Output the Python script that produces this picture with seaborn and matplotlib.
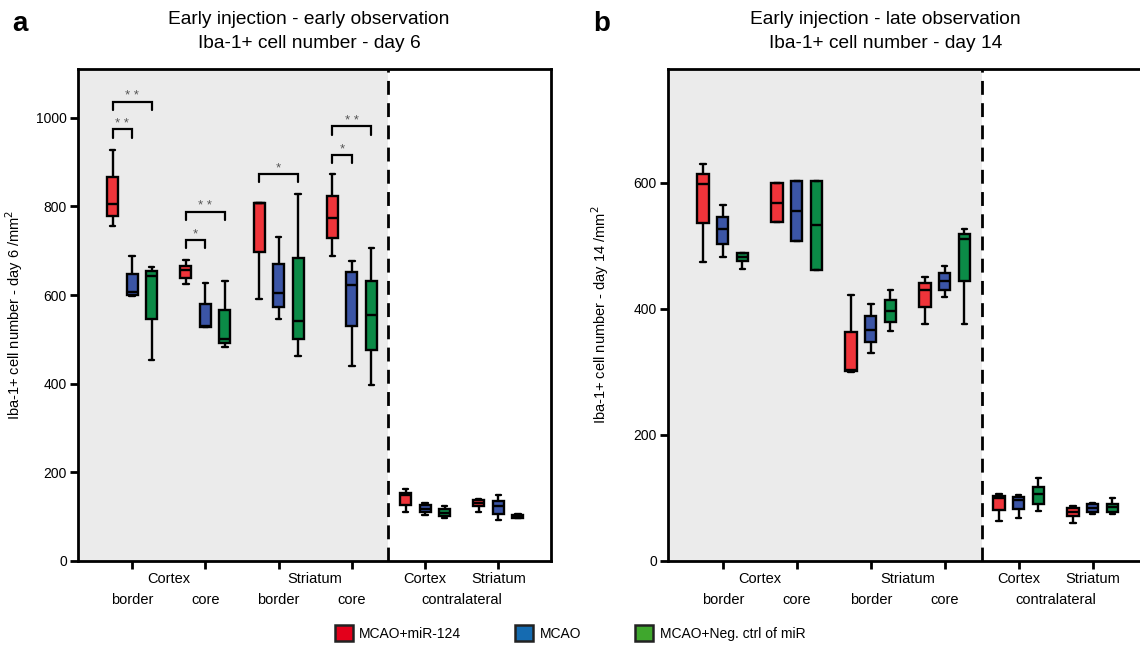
import numpy as np
import pandas as pd
import matplotlib
matplotlib.use("Agg")
import matplotlib.pyplot as plt
from matplotlib.patches import Patch
import seaborn as sns

# regions on the x axis (ipsilateral cortex/striatum border+core, contralateral cortex/striatum)
regions = ["ctx_border", "ctx_core", "str_border", "str_core", "ctx_contra", "str_contra"]
groups = ["MCAO+miR-124", "MCAO", "MCAO+Neg. ctrl of miR"]

# five-number summaries per box: [min, q1, median, q3, max]
# day 6 (panel a)
d6_mir124 = [[755, 779, 805, 867, 927], [624, 638, 657, 666, 678], [590, 698, 807, 808, 808],
             [687, 729, 773, 823, 872], [110, 126, 148, 154, 163], [110, 123, 130, 138, 141]]
d6_mcao = [[597, 600, 608, 648, 687], [527, 529, 531, 579, 627], [546, 574, 605, 669, 730],
           [440, 531, 623, 651, 677], [103, 111, 118, 126, 130], [93, 106, 123, 136, 148]]
d6_negctrl = [[453, 547, 644, 654, 663], [483, 491, 501, 567, 631], [463, 501, 541, 683, 827],
              [398, 476, 556, 632, 706], [96, 102, 109, 117, 123], [96, 97, 101, 104, 105]]

# day 14 (panel b)
d14_mir124 = [[474, 536, 598, 614, 630], [537, 537, 568, 599, 599], [299, 301, 303, 363, 422],
              [375, 402, 430, 441, 451], [64, 81, 100, 103, 106], [61, 72, 78, 84, 87]]
d14_mcao = [[482, 503, 526, 545, 565], [508, 508, 555, 603, 603], [330, 347, 367, 388, 407],
            [418, 430, 444, 456, 468], [68, 82, 97, 102, 104], [75, 78, 84, 90, 92]]
d14_negctrl = [[463, 475, 482, 488, 489], [461, 461, 532, 602, 602], [364, 379, 397, 413, 429],
               [376, 444, 510, 519, 527], [80, 91, 106, 118, 131], [75, 78, 86, 91, 100]]

# significance brackets for panel a: (region index, hue a, hue b, height, label)
d6_sig = [(0, 0, 1, 974, "* *"), (0, 0, 2, 1036, "* *"),
          (1, 0, 1, 725, "*"), (1, 0, 2, 788, "* *"),
          (2, 0, 2, 874, "*"),
          (3, 0, 1, 916, "*"), (3, 0, 2, 981, "* *")]

box_colors = ["#ef343a", "#3b55a6", "#0b8b47"]
legend_colors = ["#e3001b", "#156bb1", "#3fa72d"]


def to_long(series):
    rows = []
    for g, vals in zip(groups, series):
        for r, five in zip(regions, vals):
            for v in five:
                rows.append((r, g, v))
    return pd.DataFrame(rows, columns=["region", "group", "value"])


sns.set_style("ticks")
plt.rcParams["font.family"] = ["Liberation Sans", "DejaVu Sans"]
plt.rcParams.update({"text.color": "black", "axes.labelcolor": "black",
                     "xtick.color": "black", "ytick.color": "black"})

fig = plt.figure(figsize=(11.4, 6.49), dpi=100)
W, H = 1140, 649
ax_a = fig.add_axes([78 / W, 1 - 561 / H, 473 / W, 492 / H])
ax_b = fig.add_axes([668 / W, 1 - 561 / H, 478 / W, 492 / H])

panels = [
    (ax_a, to_long([d6_mir124, d6_mcao, d6_negctrl]), (0, 1110), range(0, 1001, 200),
     "Iba-1+ cell number - day 6 /mm$^2$"),
    (ax_b, to_long([d14_mir124, d14_mcao, d14_negctrl]), (0, 780), range(0, 601, 200),
     "Iba-1+ cell number - day 14 /mm$^2$"),
]

for ax, df, ylim, yticks, ylab in panels:
    ax.axvspan(-0.74, 3.5, color="#ebebeb", zorder=0, lw=0)
    sns.boxplot(data=df, x="region", y="value", hue="group", order=regions, hue_order=groups,
                palette=box_colors, whis=(0, 100), showfliers=False, width=0.8, gap=0.44,
                linewidth=1.7, linecolor="black", saturation=1, legend=False, ax=ax)
    ax.axvline(3.5, color="black", lw=2, ls=(0, (5, 3)), zorder=1)
    ax.set_xlim(-0.74, 5.72)
    ax.set_ylim(*ylim)
    ax.set_yticks(list(yticks))
    ax.set_xticks(range(6))
    ax.set_xticklabels([])
    ax.set_xlabel("")
    ax.set_ylabel(ylab, fontsize=10.5)
    ax.tick_params(axis="both", direction="out", length=6, width=2, labelsize=10, pad=2,
                   colors="black")
    for s in ax.spines.values():
        s.set_linewidth(2)
        s.set_color("black")
    tr = ax.get_xaxis_transform()
    for x, t in [(0.5, "Cortex"), (2.5, "Striatum"), (4, "Cortex"), (5, "Striatum")]:
        ax.text(x, -0.037, t, transform=tr, ha="center", va="center", fontsize=10.5)
    for x, t in [(0, "border"), (1, "core"), (2, "border"), (3, "core"), (4.5, "contralateral")]:
        ax.text(x, -0.079, t, transform=tr, ha="center", va="center", fontsize=10.5)

ax_a.yaxis.set_label_coords(-0.112, 0.5)
ax_b.yaxis.set_label_coords(-0.119, 0.5)

# significance brackets
off = 0.8 / 3
for k, h1, h2, y, lab in d6_sig:
    x1 = k + (h1 - 1) * off
    x2 = k + (h2 - 1) * off
    ax_a.plot([x1, x1, x2, x2], [y - 19, y, y, y - 19], color="black", lw=1.6,
              solid_joinstyle="miter", zorder=5)
    ax_a.text((x1 + x2) / 2, y + 12, lab, ha="center", va="center", fontsize=9.5,
              color="#555555")

# titles and panel letters
fig.text(309 / W, 1 - 20 / H, "Early injection - early observation", ha="center", va="center",
         fontsize=13.8)
fig.text(309 / W, 1 - 43 / H, "Iba-1+ cell number - day 6", ha="center", va="center",
         fontsize=13.8)
fig.text(885 / W, 1 - 20 / H, "Early injection - late observation", ha="center", va="center",
         fontsize=13.8)
fig.text(886 / W, 1 - 43 / H, "Iba-1+ cell number - day 14", ha="center", va="center",
         fontsize=13.8)
fig.text(20 / W, 1 - 24 / H, "a", ha="center", va="center", fontsize=20, fontweight="bold")
fig.text(602 / W, 1 - 24 / H, "b", ha="center", va="center", fontsize=20, fontweight="bold")

handles = [Patch(facecolor=c, edgecolor="#222222", linewidth=1.8) for c in legend_colors]
fig.legend(handles, groups, loc="center", bbox_to_anchor=(570 / W, 1 - 633 / H), ncol=3,
           frameon=False, fontsize=10, handlelength=1.3, handleheight=1.3,
           handletextpad=0.45, columnspacing=3.9)

fig.savefig("out.png", dpi=100)
